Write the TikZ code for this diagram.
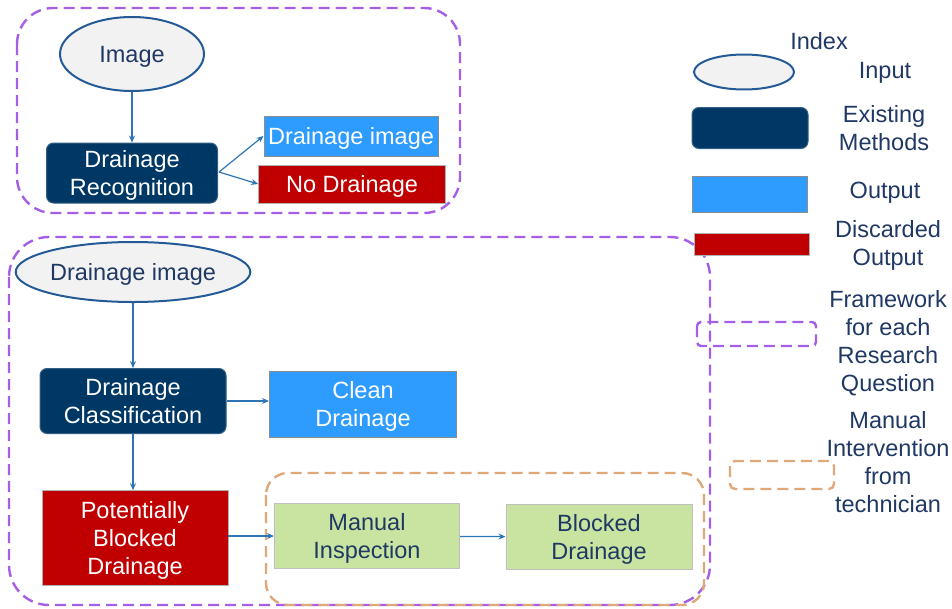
\documentclass[tikz,border=0pt]{standalone}
\usepackage{fontspec}
\setmainfont{Liberation Sans}
\usetikzlibrary{shapes.geometric,arrows.meta}
\definecolor{navy}{RGB}{0,56,101}
\definecolor{skyb}{RGB}{46,156,255}
\definecolor{dred}{RGB}{192,0,0}
\definecolor{lgreen}{RGB}{200,228,160}
\definecolor{txtblue}{RGB}{31,56,100}
\definecolor{ellb}{RGB}{36,90,150}
\definecolor{purp}{RGB}{165,95,230}
\definecolor{tan}{RGB}{222,168,120}
\definecolor{arr}{RGB}{46,117,182}
\begin{document}
\begin{tikzpicture}[x=1pt,y=-1pt,
  every node/.style={font=\fontsize{23.5}{28}\selectfont, align=center, inner sep=0pt, text depth=0pt},
  inp/.style={ellipse, draw=ellb, line width=2pt, fill=black!5, text=txtblue},
  meth/.style={rectangle, rounded corners=7pt, fill=navy, draw=navy!80!white, line width=1pt, text=white},
  outb/.style={rectangle, fill=skyb, draw=black!45, line width=1pt, text=white},
  disc/.style={rectangle, fill=dred, draw=black!30, line width=0.6pt, text=white},
  manb/.style={rectangle, fill=lgreen, draw=black!25, line width=1pt, text=txtblue},
  legtxt/.style={text=txtblue},
  frame/.style={draw=purp, line width=2.4pt, dash pattern=on 11pt off 6pt},
  tframe/.style={draw=tan, line width=2.4pt, dash pattern=on 11pt off 6pt},
  link/.style={draw=arr, line width=1.2pt, -{Stealth[length=7pt,width=6pt]}}
]
\useasboundingbox (0,0) rectangle (952,608);

% frames
\draw[frame, rounded corners=36pt] (17,8) rectangle (460,213);
\draw[frame, rounded corners=40pt] (9,237) rectangle (710,605);
\draw[tframe, rounded corners=22pt] (266,473) rectangle (704,605);

% top flow
\node[inp, minimum width=144pt, minimum height=74pt] (img) at (132,54) {Image};
\node[meth, minimum width=171pt, minimum height=60pt] (rec) at (132,173) {Drainage\\Recognition};
\node[outb, minimum width=174pt, minimum height=40pt] (dimg) at (351,136) {Drainage image};
\node[disc, minimum width=187pt, minimum height=38pt] (nod) at (352,184) {No Drainage};
\coordinate (recr) at (219,172);
\draw[link] (img) -- (rec);
\draw[link] (recr) -- (dimg.west);
\draw[link] (recr) -- (nod.west);

% bottom flow
\node[inp, minimum width=198pt, minimum height=60pt] (dimg2) at (133,272) {Drainage image};
\node[meth, minimum width=186pt, minimum height=65pt] (cls) at (133,401) {Drainage\\Classification};
\node[outb, minimum width=187pt, minimum height=66pt] (clean) at (363,404) {Clean\\Drainage};
\node[disc, minimum width=186pt, minimum height=95pt] (pot) at (135,538) {Potentially\\Blocked\\Drainage};
\node[manb, minimum width=185pt, minimum height=65pt] (man) at (367,536) {Manual\\Inspection};
\node[manb, minimum width=186pt, minimum height=65pt] (blk) at (599,537) {Blocked\\Drainage};
\draw[link] (dimg2) -- (cls);
\draw[link] (cls.south) -- (cls.south |- pot.north);
\draw[link] (cls.east) -- (clean.west |- cls.east);
\draw[link] (pot.east |- man.west) -- (man.west);
\draw[link] (man) -- (blk);

% legend
\node[legtxt] (idx) at (819,41) {Index};
\node[inp, minimum width=100pt, minimum height=35pt] (linp) at (744,72) {};
\node[legtxt] (tinp) at (885,70) {Input};
\node[meth, minimum width=116pt, minimum height=41pt] (lmeth) at (750,128) {};
\node[legtxt] (tmeth) at (884,128) {Existing\\Methods};
\node[outb, minimum width=115pt, minimum height=36pt] (lout) at (750,194) {};
\node[legtxt] (tout) at (885,190) {Output};
\node[disc, minimum width=115pt, minimum height=22pt] (ldisc) at (752,244) {};
\node[legtxt] (tdisc) at (888,243) {Discarded\\Output};
\draw[frame, rounded corners=4pt] (697,322) rectangle (816,346);
\node[legtxt] (tframe) at (888,341) {Framework\\for each\\Research\\Question};
\draw[tframe, rounded corners=5pt] (730,461) rectangle (834,489);
\node[legtxt] (tman) at (888,462) {Manual\\Intervention\\from\\technician};
\end{tikzpicture}
\end{document}
